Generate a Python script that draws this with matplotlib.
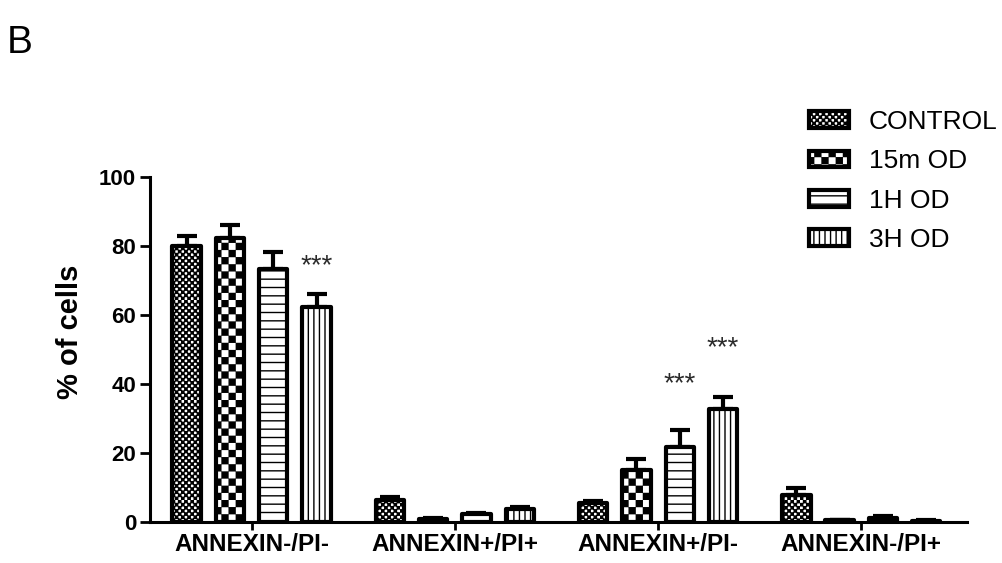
import numpy as np
import matplotlib
matplotlib.use("Agg")
import matplotlib.pyplot as plt
import matplotlib.hatch as mhatch
from matplotlib.path import Path

# ---------------- data ----------------
categories = ["ANNEXIN-/PI-", "ANNEXIN+/PI+", "ANNEXIN+/PI-", "ANNEXIN-/PI+"]
series_names = ["CONTROL", "15m OD", "1H OD", "3H OD"]
control = [80.0, 6.5, 5.5, 7.8]
od_15m = [82.3, 1.0, 15.1, 0.5]
od_1h = [73.3, 2.2, 21.7, 1.2]
od_3h = [62.3, 3.8, 32.8, 0.3]
err_control = [2.9, 0.8, 0.6, 2.2]
err_15m = [3.8, 0.3, 3.2, 0.2]
err_1h = [5.0, 0.5, 5.0, 0.4]
err_3h = [3.8, 0.5, 3.4, 0.2]
yticks = [0, 20, 40, 60, 80, 100]
# significance marks: (category index, series index, label height)
stars = [(0, 3, 74.0), (2, 2, 40.0), (2, 3, 50.3)]

values = [control, od_15m, od_1h, od_3h]
errors = [err_control, err_15m, err_1h, err_3h]


# ---------------- custom checker hatches ----------------
class _Checker(mhatch.HatchPatternBase):
    char = "."
    n = 32
    shrink = 0.0

    def __init__(self, hatch, density):
        on = hatch.count(self.char) > 0
        if on:
            self.cells = [(i, j) for i in range(self.n) for j in range(self.n)
                          if (i + j) % 2 == 0]
        else:
            self.cells = []
        self.num_vertices = len(self.cells) * 5

    def set_vertices_and_codes(self, vertices, codes):
        s = 1.0 / self.n
        d = self.shrink
        for k, (i, j) in enumerate(self.cells):
            x0, y0 = i * s + d, j * s + d
            x1, y1 = (i + 1) * s - d, (j + 1) * s - d
            vertices[k * 5:k * 5 + 5] = [(x0, y0), (x1, y0), (x1, y1), (x0, y1), (x0, y0)]
            codes[k * 5:k * 5 + 5] = [Path.MOVETO, Path.LINETO, Path.LINETO,
                                      Path.LINETO, Path.CLOSEPOLY]


class FineChecker(_Checker):
    char = "."
    n = 32
    shrink = 0.004


class CoarseChecker(_Checker):
    char = "*"
    n = 14
    shrink = 0.006


_ht = mhatch._hatch_types
_ht[_ht.index(mhatch.SmallFilledCircles)] = FineChecker
_ht[_ht.index(mhatch.Stars)] = CoarseChecker

hatches = [".", "*", "--", "|||"]

# ---------------- style ----------------
plt.rcParams["font.family"] = ["Liberation Sans", "DejaVu Sans"]
plt.rcParams["hatch.linewidth"] = 1.0
plt.rcParams["hatch.color"] = "black"

fig = plt.figure(figsize=(10.03, 5.63), dpi=100)
ax = fig.add_axes([150 / 1003, 41 / 563, 817 / 1003, 345 / 563])

x = np.arange(len(categories))
step = 0.213
width = 0.14
for k in range(4):
    pos = x + (k - 1.5) * step
    ax.bar(pos, values[k], width=width, facecolor="white", edgecolor="black",
           linewidth=3, hatch=hatches[k], label=series_names[k], zorder=3,
           joinstyle="round")
    ax.errorbar(pos, values[k], yerr=[np.zeros(len(categories)), errors[k]],
                fmt="none", ecolor="black", elinewidth=3, capsize=7, capthick=3,
                zorder=2)

for ci, si, yy in stars:
    ax.text(x[ci] + (si - 1.5) * step, yy, "***", ha="center", va="center",
            fontsize=20, color="#2a2a2a")

ax.set_xlim(-0.5, 3.52)
ax.set_ylim(0, 100)
ax.set_yticks(yticks)
ax.set_xticks(x)
ax.set_xticklabels(categories, fontsize=17.5, fontweight="bold")
for t in ax.get_yticklabels():
    t.set_fontsize(16)
    t.set_fontweight("bold")
ax.tick_params(axis="both", direction="out", length=6, width=2, pad=2)
ax.tick_params(axis="y", length=7, pad=3)
for side in ["top", "right"]:
    ax.spines[side].set_visible(False)
for side in ["left", "bottom"]:
    ax.spines[side].set_linewidth(2.2)

ax.set_ylabel("% of cells", fontsize=21, fontweight="bold")
ax.yaxis.set_label_coords(-0.081, 0.55)

fig.text(7 / 1003, 1 - 25 / 563, "B", fontsize=28, ha="left", va="top")

leg = ax.legend(loc="upper left", bbox_to_anchor=(809 / 1003, 1 - 110 / 563),
                bbox_transform=fig.transFigure, frameon=False, fontsize=19,
                handlelength=1.5, handleheight=0.6, labelspacing=0.58,
                handletextpad=0.76, borderpad=0, borderaxespad=0)
for h in leg.legend_handles:
    h.set_linewidth(3)

fig.savefig("out.png", dpi=100)
